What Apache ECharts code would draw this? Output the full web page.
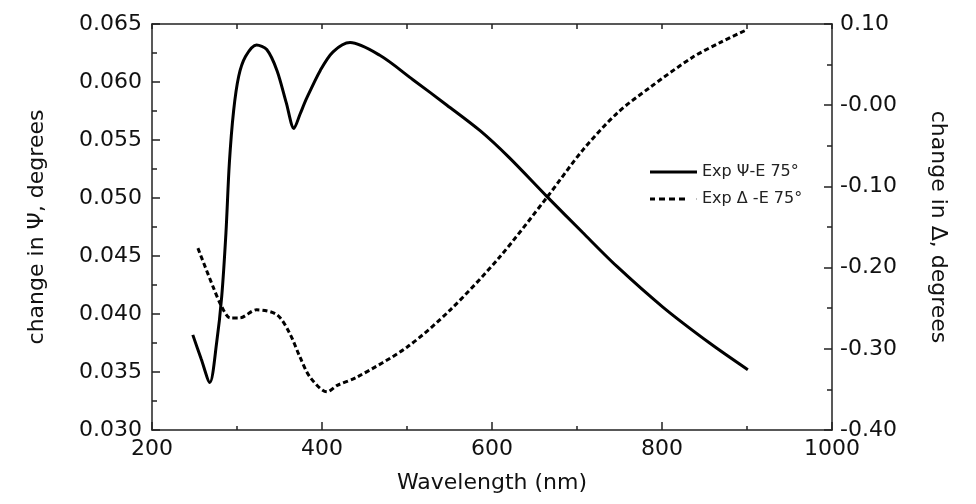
<!DOCTYPE html>
<html>
<head>
<meta charset="utf-8">
<script src="https://cdn.jsdelivr.net/npm/echarts@6/dist/echarts.min.js"></script>
<style>
html, body { margin: 0; padding: 0; background: #fff; }
#chart { width: 976px; height: 504px; }
</style>
</head>
<body>
<div id="chart"></div>
<script>
var chart = echarts.init(document.getElementById('chart'));

// Ψ 曲线（左轴）
var psiWave = [248, 258, 268, 276, 282, 287, 291, 296, 302, 310, 323, 335, 347, 358, 367, 374, 382, 398, 413, 433, 468, 507, 547, 586, 620, 665, 707, 747, 801, 856, 901];
var psiValue = [0.0382, 0.0361, 0.0341, 0.0375, 0.0415, 0.0470, 0.0530, 0.0575, 0.0605, 0.0622, 0.0632, 0.0628, 0.0610, 0.0582, 0.0560, 0.0572, 0.0586, 0.0610, 0.0626, 0.0634, 0.0623, 0.0602, 0.0580, 0.0558, 0.0535, 0.0501, 0.0470, 0.0441, 0.0406, 0.0375, 0.0352];

// Δ 曲线（右轴）
var deltaWave = [254, 272, 282, 292, 303, 323, 347, 362, 374, 386, 406, 418, 441, 500, 551, 609, 665, 707, 747, 786, 836, 870, 900];
var deltaValue = [-0.176, -0.224, -0.248, -0.262, -0.262, -0.252, -0.258, -0.281, -0.310, -0.335, -0.353, -0.345, -0.335, -0.298, -0.252, -0.187, -0.113, -0.055, -0.010, 0.022, 0.059, 0.078, 0.093];

var legendNames = ['Exp Ψ-E 75°', 'Exp Δ -E 75°'];

function pairs(xs, ys) {
    var res = [];
    for (var i = 0; i < xs.length; i++) res.push([xs[i], ys[i]]);
    return res;
}

var fontName = 'DejaVu Sans';
var axisColor = '#222';

option = {
    animation: false,
    backgroundColor: '#fff',
    grid: { left: 152, right: 144, top: 24, bottom: 74 },
    legend: {
        left: 645,
        top: 158,
        orient: 'vertical',
        itemWidth: 47,
        itemHeight: 3,
        itemGap: 9,
        textStyle: { fontFamily: fontName, fontSize: 16, color: '#222', lineHeight: 18 },
        data: [
            { name: legendNames[0], icon: 'path://M0,0H47V3H0Z' },
            { name: legendNames[1], icon: 'path://M0,0H5V3H0Z M9,0H15V3H9Z M19,0H25V3H19Z M29,0H35V3H29Z M46.5,1H47V2H46.5Z' }
        ]
    },
    xAxis: [
        {
            type: 'value', min: 200, max: 1000, interval: 200,
            name: 'Wavelength (nm)', nameLocation: 'middle', nameGap: 42,
            nameTextStyle: { fontFamily: fontName, fontSize: 22, color: '#111' },
            axisLine: { show: true, onZero: false, lineStyle: { color: axisColor, width: 1.5 } },
            axisTick: { inside: true, length: 8, lineStyle: { color: axisColor, width: 1.5 } },
            minorTick: { show: true, splitNumber: 2, length: 4, lineStyle: { color: axisColor, width: 1.5 } },
            axisLabel: {
                fontFamily: fontName, fontSize: 22, color: '#111', margin: 8,
                formatter: function (v) { return String(v); }
            },
            splitLine: { show: false }
        },
        {
            type: 'value', position: 'top', min: 200, max: 1000, interval: 100,
            axisLine: { show: true, onZero: false, lineStyle: { color: axisColor, width: 1.5 } },
            axisTick: { inside: true, length: 5, lineStyle: { color: axisColor, width: 1.5 } },
            axisLabel: { show: false },
            splitLine: { show: false }
        }
    ],
    yAxis: [
        {
            type: 'value', min: 0.030, max: 0.065, interval: 0.005,
            name: 'change in Ψ, degrees', nameLocation: 'middle', nameGap: 104,
            nameTextStyle: { fontFamily: fontName, fontSize: 22, color: '#111' },
            axisLine: { show: true, onZero: false, lineStyle: { color: axisColor, width: 1.5 } },
            axisTick: { inside: true, length: 8, lineStyle: { color: axisColor, width: 1.5 } },
            minorTick: { show: true, splitNumber: 2, length: 5, lineStyle: { color: axisColor, width: 1.5 } },
            axisLabel: {
                fontFamily: fontName, fontSize: 22, color: '#111', margin: 10,
                formatter: function (v) { return v.toFixed(3); }
            },
            splitLine: { show: false }
        },
        {
            type: 'value', min: -0.4, max: 0.1, interval: 0.1,
            name: 'change in Δ, degrees', nameLocation: 'middle', nameGap: 95, nameRotate: -90,
            nameTextStyle: { fontFamily: fontName, fontSize: 22, color: '#111' },
            axisLine: { show: true, onZero: false, lineStyle: { color: axisColor, width: 1.5 } },
            axisTick: { inside: true, length: 8, lineStyle: { color: axisColor, width: 1.5 } },
            minorTick: { show: true, splitNumber: 2, length: 5, lineStyle: { color: axisColor, width: 1.5 } },
            axisLabel: {
                fontFamily: fontName, fontSize: 22, color: '#111', margin: 8,
                formatter: function (v) {
                    if (v > 0.05) return v.toFixed(2);
                    return '-' + Math.abs(v).toFixed(2);
                }
            },
            splitLine: { show: false }
        }
    ],
    series: [
        {
            name: legendNames[0],
            type: 'line',
            xAxisIndex: 0,
            yAxisIndex: 0,
            showSymbol: false,
            symbol: 'none',
            smooth: 0.3,
            lineStyle: { color: '#000', width: 3 },
            itemStyle: { color: '#000' },
            data: pairs(psiWave, psiValue)
        },
        {
            name: legendNames[1],
            type: 'line',
            xAxisIndex: 0,
            yAxisIndex: 1,
            showSymbol: false,
            symbol: 'none',
            smooth: 0.3,
            lineStyle: { color: '#000', width: 3, type: [5, 3] },
            itemStyle: { color: '#000' },
            data: pairs(deltaWave, deltaValue)
        }
    ]
};

chart.setOption(option);
</script>
</body>
</html>
